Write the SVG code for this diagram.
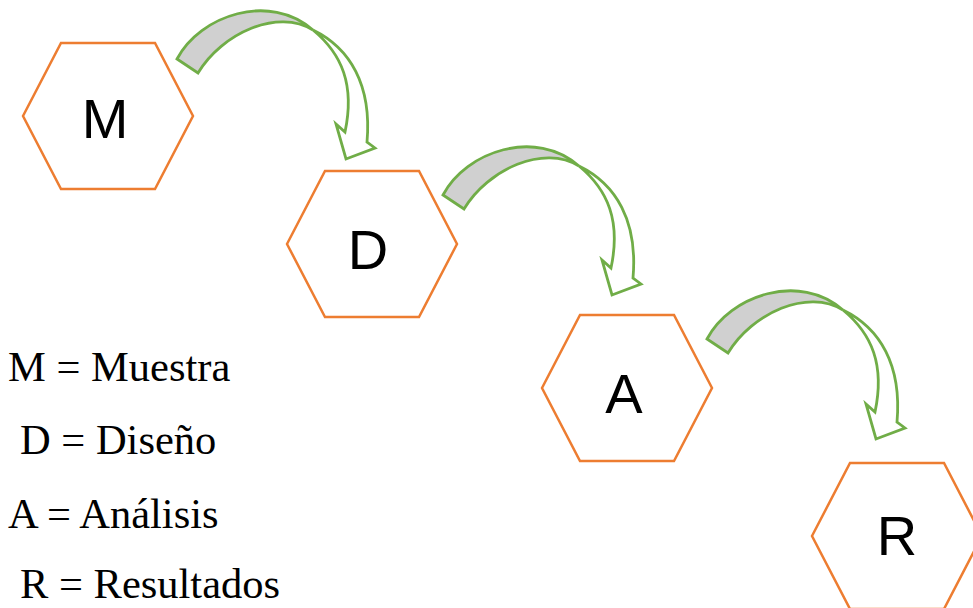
<svg xmlns="http://www.w3.org/2000/svg" width="973" height="608" viewBox="0 0 973 608">
<style>
.hex{fill:#fff;stroke:#ED7D31;stroke-width:2.5}
.lbl{font-family:"Liberation Sans",Arial,sans-serif;font-size:56px;fill:#000;text-anchor:middle}
.leg{font-family:"Liberation Serif","Times New Roman",serif;font-size:42.5px;fill:#000}
.sh{fill:#D0D0D0;stroke:#70AD47;stroke-width:2.8;stroke-linejoin:miter}
.hd{fill:#fff;stroke:#70AD47;stroke-width:2.8;stroke-linejoin:miter}
</style>
<defs>
<g id="carrow">
<path class="hd" d="M313,30 C350,48 372,85 367,142 L375,148 L346,159 L336,124 L345,132 C355,85 342,54 313,30 Z"/>
<path class="sh" d="M177,59 C200,15 270,-8 313,30 C278,8 222,33 198,73 Z"/>
</g>
</defs>
<rect width="973" height="608" fill="#fff"/>
<g id="connectors">
<use href="#carrow"/>
<use href="#carrow" transform="translate(266,136)"/>
<use href="#carrow" transform="translate(530,280)"/>
</g>
<g id="node-M">
<polygon class="hex" points="23,116 61,43 155,43 193,116 155,189 61,189"/>
<text class="lbl" x="105" y="138">M</text>
</g>
<g id="node-D">
<polygon class="hex" points="287,244 325,171 419,171 457,244 419,317 325,317"/>
<text class="lbl" x="368" y="269">D</text>
</g>
<g id="node-A">
<polygon class="hex" points="542,388 580,315 674,315 712,388 674,461 580,461"/>
<text class="lbl" x="624" y="413">A</text>
</g>
<g id="node-R">
<polygon class="hex" points="812,536 850,463 944,463 982,536 944,609 850,609"/>
<text class="lbl" x="897" y="555">R</text>
</g>
<g id="legend">
<text class="leg" x="8" y="381">M = Muestra</text>
<text class="leg" x="20" y="454">D = Diseño</text>
<text class="leg" x="8" y="528">A = Análisis</text>
<text class="leg" x="20" y="598">R = Resultados</text>
</g>
</svg>
